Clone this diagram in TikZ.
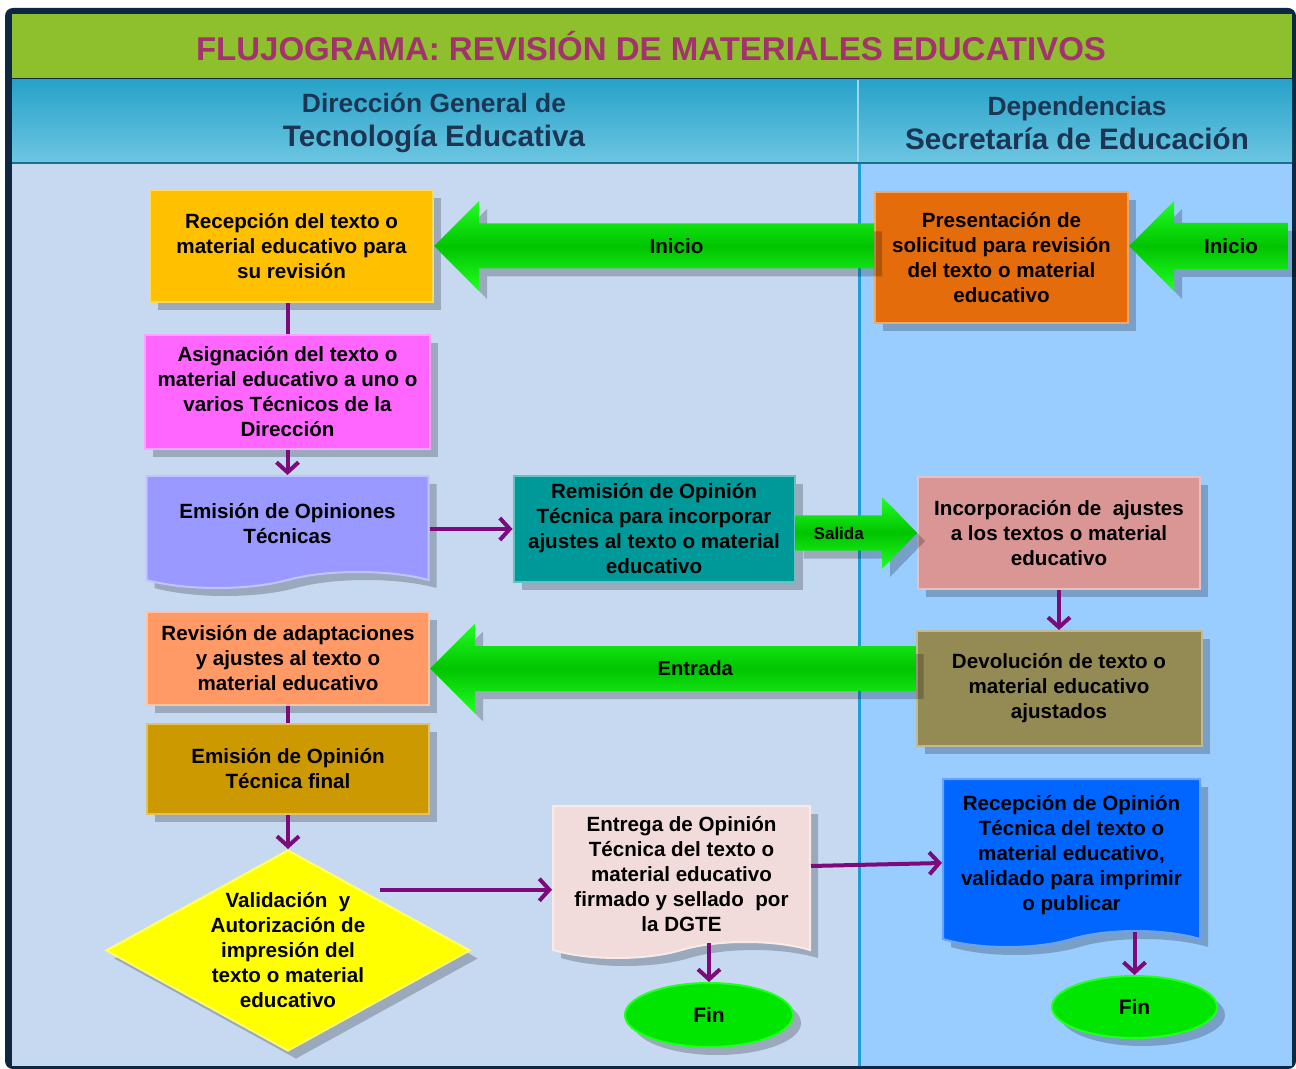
\documentclass[tikz,border=0pt]{standalone}
\usepackage{fontspec}
\setmainfont{Liberation Sans}
\usetikzlibrary{positioning,calc,shapes.geometric,shapes.symbols,shadows,arrows.meta}

\definecolor{framecol}{HTML}{0E2841}
\definecolor{titleband}{HTML}{8EBF2C}
\definecolor{titletext}{HTML}{A3336E}
\definecolor{headtop}{HTML}{27A2C8}
\definecolor{headbot}{HTML}{6CC6E2}
\definecolor{headtext}{HTML}{1B3553}
\definecolor{laneleft}{HTML}{C6D9F1}
\definecolor{laneright}{HTML}{99CCFF}
\definecolor{divider}{HTML}{1C9FD9}
\definecolor{flowpurple}{HTML}{7D0A7D}
\definecolor{arrowlight}{HTML}{22FF22}
\definecolor{arrowdark}{HTML}{00C400}
\definecolor{recepcol}{HTML}{FFC000}
\definecolor{asigncol}{HTML}{FF66FF}
\definecolor{emisioncol}{HTML}{9999FF}
\definecolor{remisioncol}{HTML}{009999}
\definecolor{revisioncol}{HTML}{FF9966}
\definecolor{finalcol}{HTML}{CC9900}
\definecolor{validcol}{HTML}{FFFF00}
\definecolor{entregacol}{HTML}{F2DCDB}
\definecolor{prescol}{HTML}{E46C0A}
\definecolor{incorpcol}{HTML}{D99694}
\definecolor{devolcol}{HTML}{948A54}
\definecolor{recepopcol}{HTML}{0066FF}
\definecolor{fincol}{HTML}{00E600}

\newcommand*\boxfont{\bfseries\fontsize{10.3}{12.5}\selectfont}
% green block arrow: tail, tip, shaft half, head half, head length, font size, name, text
\newcommand*\blockarrow[8]{%
  \coordinate (hb) at ($(#2)!#5!(#1)$);
  \path[greenarrow] ([yshift=#3]#1) -- ([yshift=#3]hb) -- ([yshift=#4]hb) -- (#2)
    -- ([yshift=-#4]hb) -- ([yshift=-#3]hb) -- ([yshift=-#3]#1) -- cycle;
  \node[font={\bfseries\fontsize{#6}{12}\selectfont}] (#7) at ($(#1)!0.5!(hb)$) {#8};}

\begin{document}
\begin{tikzpicture}[x=0.5pt,y=-0.5pt,>={Straight Barb[length=5pt,width=11pt]},
  shadowed/.style={drop shadow={shadow xshift=4pt,shadow yshift=-4pt,fill=black,opacity=0.22}},
  proc/.style={rectangle,fill=#1,draw=#1!60!white,line width=1pt,align=center,
    inner sep=2pt,font=\boxfont,shadowed},
  docu/.style={tape,tape bend top=none,tape bend bottom=in and out,tape bend height=8pt,
    fill=#1,draw=#1!60!white,line width=1pt,align=center,inner sep=2pt,font=\boxfont,shadowed},
  decision/.style={diamond,aspect=1.8,fill=#1,draw=#1!60!white,line width=1pt,align=center,
    inner sep=-4pt,font=\boxfont,shadowed},
  terminal/.style={ellipse,fill=fincol,draw=arrowlight,line width=1pt,
    font=\bfseries\fontsize{10.5}{12}\selectfont,shadowed},
  greenarrow/.style={top color=arrowlight,bottom color=arrowlight,middle color=arrowdark,shadowed},
  flow/.style={draw=flowpurple,line width=2pt},
  headtext/.style={align=center,text=headtext,font=\bfseries\fontsize{14.8}{17}\selectfont}]

\useasboundingbox (0,0) rectangle (1296,1069);
% frame, title band and lanes
\fill[framecol,rounded corners=4pt] (5,8) rectangle (1296,1069);
\fill[titleband] (12,14) rectangle (1292,78);
\shade[top color=headtop,bottom color=headbot] (12,80) rectangle (1292,162);
\fill[laneleft] (12,164) rectangle (858,1066);
\fill[laneright] (860,164) rectangle (1292,1066);
\draw[divider,line width=1.5pt] (859,164) -- (859,1066);
\draw[headbot!70!white,line width=0.6pt] (858,80) -- (858,162);
\draw[headtop!70!black,line width=1pt] (12,163) -- (1292,163);

\node[text=titletext,font=\bfseries\fontsize{16.5}{20}\selectfont] (title) at (651,46)
  {FLUJOGRAMA: REVISIÓN DE MATERIALES EDUCATIVOS};
\node[headtext] (headleft) at (434,123)
  {{\fontsize{13.2}{17}\selectfont Dirección General de}\\Tecnología Educativa};
\node[headtext] (headright) at (1077,123)
  {{\fontsize{13.2}{17}\selectfont Dependencias}\\Secretaría de Educación};

% left lane
\node[proc=recepcol,minimum width=141.5pt,minimum height=56pt] (recep) at (291.5,246)
  {Recepción del texto o\\material educativo para\\su revisión};
\node[proc=asigncol,minimum width=142.5pt,minimum height=57pt] (asign) [below=15.5pt of recep,xshift=-2pt]
  {Asignación del texto o\\material educativo a uno o\\varios Técnicos de la\\Dirección};
\node[docu=emisioncol,minimum width=141pt,minimum height=56pt] (emision) [below=12.5pt of asign]
  {Emisión de Opiniones\\Técnicas};
\node[proc=remisioncol,minimum width=140.5pt,minimum height=53pt] (remision) [right=41.5pt of emision,yshift=-2.5pt]
  {Remisión de Opinión\\Técnica para incorporar\\ajustes al texto o material\\educativo};
\node[proc=revisioncol,minimum width=141pt,minimum height=46.5pt] (revision) at (288,658.5)
  {Revisión de adaptaciones\\y ajustes al texto o\\material educativo};
\node[proc=finalcol,minimum width=141pt,minimum height=45pt] (emfinal) [below=8.5pt of revision]
  {Emisión de Opinión\\Técnica final};
\node[decision=validcol,minimum width=182pt,minimum height=100.5pt] (valid) [below=17pt of emfinal]
  {Validación\ \ y\\Autorización de\\impresión del\\texto o material\\educativo};
\node[docu=entregacol,minimum width=128.5pt,minimum height=76pt] (entrega) at (681.5,874)
  {Entrega de Opinión\\Técnica del texto o\\material educativo\\firmado y sellado\ \ por\\la DGTE};
\node[terminal,minimum width=84pt,minimum height=32pt] (fin1) at (709,1015) {Fin};

% right lane
\node[proc=prescol,minimum width=126.5pt,minimum height=65.5pt] (pres) at (1001.5,257.5)
  {Presentación de\\solicitud para revisión\\del texto o material\\educativo};
\node[proc=incorpcol,minimum width=141pt,minimum height=56pt] (incorp) at (1059,533)
  {Incorporación de\ \ ajustes\\a los textos o material\\educativo};
\node[proc=devolcol,minimum width=142.5pt,minimum height=57.5pt] (devol) [below=20pt of incorp]
  {Devolución de texto o\\material educativo\\ajustados};
\node[docu=recepopcol,minimum width=128.5pt,minimum height=84pt] (recepop) at (1071.5,855)
  {Recepción de Opinión\\Técnica del texto o\\material educativo,\\validado para imprimir\\o publicar};
\node[terminal,minimum width=82.5pt,minimum height=31pt] (fin2) at (1134.5,1007) {Fin};

% green block arrows
\coordinate (inicio0) at (1288,246);
\coordinate (iniciotip) at (pres.east |- recep.east);
\coordinate (iniciotail) at (pres.west |- recep.east);
\coordinate (salidatail) at (remision.east |- incorp.west);
\coordinate (entradatip) at ([yshift=-5pt]revision.east);
\coordinate (entradatail) at (devol.west |- entradatip);
\blockarrow{inicio0}{iniciotip}{11.5pt}{22.5pt}{22.5pt}{10.3}{inicioB}{Inicio}
\blockarrow{iniciotail}{recep.east}{11.25pt}{22.5pt}{22.5pt}{10.3}{inicioA}{Inicio}
\blockarrow{salidatail}{incorp.west}{8.75pt}{18pt}{17.5pt}{8.5}{salida}{Salida}
\blockarrow{entradatail}{entradatip}{11.25pt}{22.5pt}{22.5pt}{10.1}{entrada}{Entrada}

% purple connectors
\draw[flow] (recep.south -| asign.north) -- (asign.north);
\draw[flow,->] (asign) -- (emision);
\draw[flow,->] (emision.east |- remision.west) -- (remision.west);
\draw[flow] (revision) -- (emfinal);
\draw[flow,->] (emfinal) -- (valid);
\draw[flow,->] ([yshift=5pt]valid.north east) -- ([yshift=5pt]valid.north east -| entrega.west);
\draw[flow,->] ([yshift=4pt]entrega.east) -- ([yshift=-4pt]recepop.west);
\draw[flow,->] (entrega.south -| fin1.north) -- (fin1.north);
\draw[flow,->] (incorp) -- (devol);
\draw[flow,->] (recepop.south -| fin2.north) -- (fin2.north);
\end{tikzpicture}
\end{document}
